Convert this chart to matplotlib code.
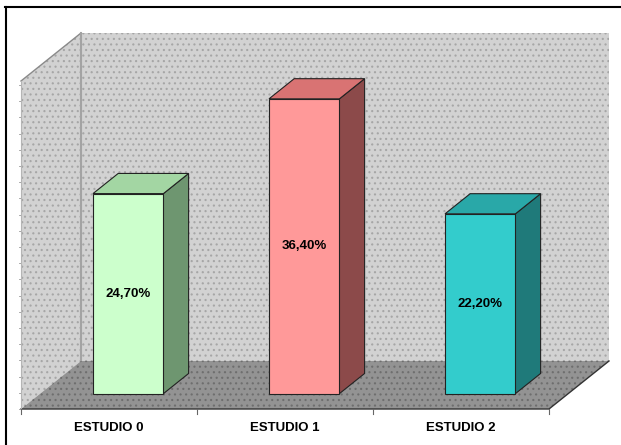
import matplotlib
matplotlib.use("Agg")
import matplotlib.pyplot as plt
from matplotlib.patches import Polygon

# data
categories = ["ESTUDIO 0", "ESTUDIO 1", "ESTUDIO 2"]
values = [24.70, 36.40, 22.20]
value_labels = ["24,70%", "36,40%", "22,20%"]
front_colors = ["#ccffcc", "#ff9999", "#33cccc"]
top_colors = ["#a3d6a3", "#d97373", "#29a8a8"]
side_colors = ["#6e9670", "#8c4a4a", "#1f7a7a"]

plt.rcParams['font.family'] = ['Liberation Sans', 'DejaVu Sans']
plt.rcParams['hatch.linewidth'] = 0.8

# layout of the fake 3d box (pixels)
x0, x1 = 21, 549          # floor front edge
y_floor = 409
ddx, ddy = 60, 48         # depth offset of floor
ymax = 40.5
wall_h = 328              # pixel height of the wall for ymax
scale = wall_h / ymax

fig = plt.figure(figsize=(6.21, 4.45), dpi=100)
ax = fig.add_axes([0, 0, 1, 1])
ax.set_xlim(0, 621)
ax.set_ylim(445, 0)
ax.axis("off")

wall_col = "#d2d2d2"
wall_dot = "#a6a6a6"
floor_col = "#939393"
floor_dot = "#6e6e6e"

def proj(x, v, d):
    # x along front edge, v value, d depth fraction 0..1
    return (x + d * ddx, y_floor - d * ddy - v * scale)

# back wall
back = [proj(x0, 0, 1), proj(x1, 0, 1), proj(x1, ymax, 1), proj(x0, ymax, 1)]
ax.add_patch(Polygon(back, closed=True, facecolor=wall_col, edgecolor=wall_dot,
                     lw=0, hatch="...", zorder=1))
# left wall
left = [proj(x0, 0, 0), proj(x0, 0, 1), proj(x0, ymax, 1), proj(x0, ymax, 0)]
ax.add_patch(Polygon(left, closed=True, facecolor=wall_col, edgecolor=wall_dot,
                     lw=0, hatch="...", zorder=1))
ax.plot([proj(x0, ymax, 0)[0], proj(x0, ymax, 1)[0]],
        [proj(x0, ymax, 0)[1], proj(x0, ymax, 1)[1]], color="#8a8a8a", lw=1, zorder=2)
ax.plot([proj(x0, 0, 1)[0]] * 2, [proj(x0, 0, 1)[1], proj(x0, ymax, 1)[1]],
        color="#a3a3a3", lw=1.5, zorder=2)
# floor
floor = [proj(x0, 0, 0), proj(x1, 0, 0), proj(x1, 0, 1), proj(x0, 0, 1)]
ax.add_patch(Polygon(floor, closed=True, facecolor=floor_col, edgecolor=floor_dot,
                     lw=0, hatch="...", zorder=2))
ax.plot([proj(x0, 0, 0)[0], proj(x1, 0, 0)[0], proj(x1, 0, 1)[0]],
        [proj(x0, 0, 0)[1], proj(x1, 0, 0)[1], proj(x1, 0, 1)[1]],
        color="#333333", lw=1, zorder=3)

# value axis ticks on the left wall edge
for t in range(0, 41, 2):
    px, py = proj(x0, t, 0)
    ax.plot([px - 2, px], [py, py], color="#999999", lw=0.6, zorder=3)
ax.plot([x0, x0], [proj(x0, 0, 0)[1], proj(x0, ymax, 0)[1]], color="#b5b5b5", lw=0.8, zorder=3)

# category ticks
n = len(categories)
step = (x1 - x0) / n
for i in range(n + 1):
    px = x0 + i * step
    ax.plot([px, px], [y_floor, y_floor + 5], color="#666666", lw=0.8, zorder=3)

# bars
bw = 0.4 * step
d0, d1 = 0.32, 0.74
for i, v in enumerate(values):
    cx = x0 + (i + 0.5) * step
    l, r = cx - bw / 2, cx + bw / 2
    front = [proj(l, 0, d0), proj(r, 0, d0), proj(r, v, d0), proj(l, v, d0)]
    side = [proj(r, 0, d0), proj(r, 0, d1), proj(r, v, d1), proj(r, v, d0)]
    top = [proj(l, v, d0), proj(r, v, d0), proj(r, v, d1), proj(l, v, d1)]
    ax.add_patch(Polygon(side, closed=True, facecolor=side_colors[i],
                         edgecolor="#222222", lw=0.8, zorder=4))
    ax.add_patch(Polygon(top, closed=True, facecolor=top_colors[i],
                         edgecolor="#222222", lw=0.8, zorder=4))
    ax.add_patch(Polygon(front, closed=True, facecolor=front_colors[i],
                         edgecolor="#222222", lw=0.8, zorder=5))
    fx = (front[0][0] + front[1][0]) / 2
    fy = (front[0][1] + front[2][1]) / 2
    ax.text(fx, fy, value_labels[i], ha="center", va="center",
            fontsize=9.5, fontweight="bold", color="black", zorder=6)
    ax.text(cx, 428, categories[i], ha="center", va="center",
            fontsize=9.5, fontweight="bold", color="black", zorder=6)

# frame lines (top and left)
ax.plot([5, 621], [7, 7], color="black", lw=1.5, zorder=7)
ax.plot([5.5, 5.5], [7, 445], color="black", lw=1.5, zorder=7)

fig.savefig("out.png", dpi=100)
